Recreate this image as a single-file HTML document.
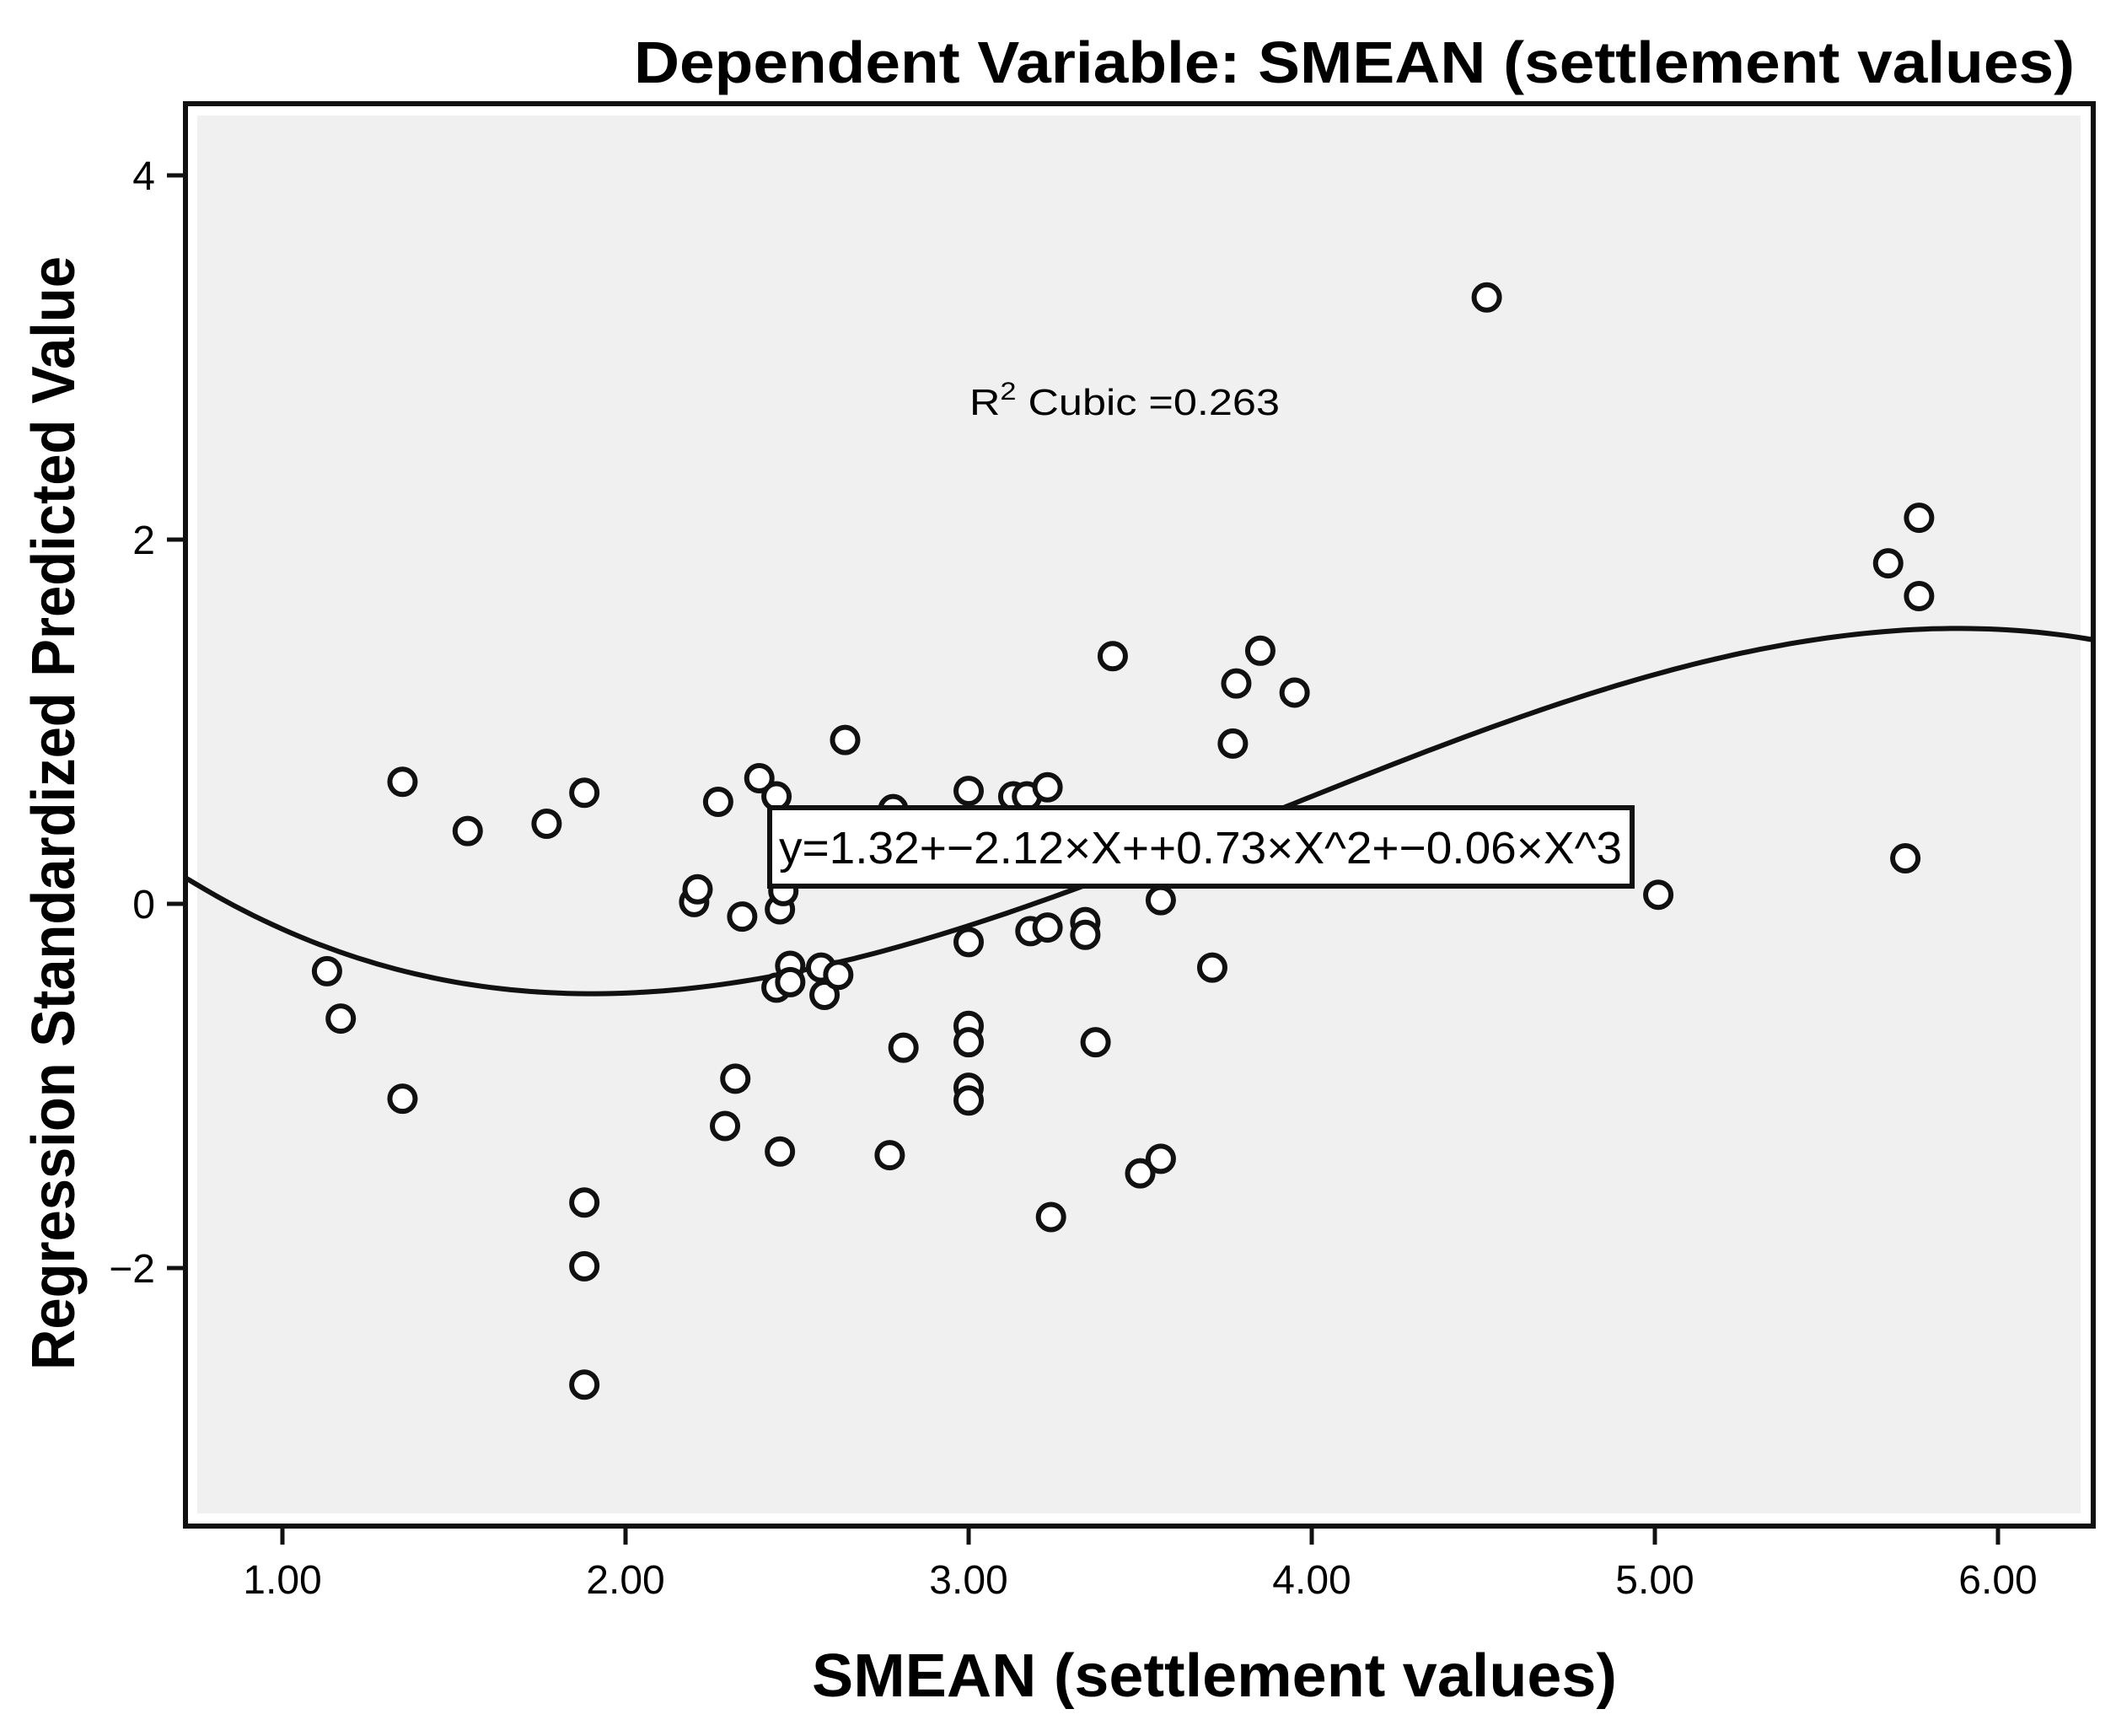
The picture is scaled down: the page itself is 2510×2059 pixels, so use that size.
<!DOCTYPE html>
<html><head><meta charset="utf-8"><style>html,body{margin:0;padding:0;background:#fff}svg{display:block}</style></head>
<body>
<svg id="chart" width="2510" height="2059" xmlns="http://www.w3.org/2000/svg" font-family="Liberation Sans, Arial, sans-serif">
<text x="752" y="98" font-size="70" font-weight="bold" textLength="1709" lengthAdjust="spacingAndGlyphs">Dependent Variable: SMEAN  (settlement values)</text>
<rect x="220" y="123" width="2263" height="1687" fill="#fff" stroke="#111" stroke-width="6"/>
<rect x="234" y="137" width="2234" height="1658" fill="#f0f0f0"/>
<g id="xticks"></g><g id="yticks"></g>
<g id="curve"></g>
<g id="points"></g>
<text x="1150" y="492" font-size="44" textLength="368" lengthAdjust="spacingAndGlyphs">R<tspan dy="-18" font-size="30">2</tspan><tspan dy="18"> Cubic =0.263</tspan></text>
<rect x="913" y="958" width="1023" height="93" fill="#fff" stroke="#111" stroke-width="6"/>
<text x="924" y="1024" font-size="54" textLength="1000" lengthAdjust="spacingAndGlyphs">y=1.32+−2.12×X++0.73×X^2+−0.06×X^3</text>
<text x="963" y="2012" font-size="72" font-weight="bold" textLength="955" lengthAdjust="spacingAndGlyphs">SMEAN  (settlement values)</text>
<text transform="translate(88,1625) rotate(-90)" x="0" y="0" font-size="72" font-weight="bold" textLength="1321" lengthAdjust="spacingAndGlyphs">Regression Standardized Predicted Value</text>
</svg>
<script>
const xVals=[1.13,1.17,1.35,1.35,1.54,1.77,1.88,1.88,1.88,1.88,2.20,2.21,2.27,2.29,2.32,2.34,2.39,2.44,2.44,2.45,2.45,2.46,2.48,2.48,2.57,2.58,2.62,2.64,2.77,2.78,2.81,3.00,3.00,3.00,3.00,3.00,3.00,3.13,3.17,3.18,3.23,3.23,3.24,3.34,3.34,3.37,3.42,3.50,3.56,3.56,3.71,3.77,3.78,3.85,3.95,4.51,5.01,5.68,5.73,5.77,5.77];
const yVals=[-0.37,-0.63,0.67,-1.07,0.40,0.44,0.61,-1.64,-1.99,-2.64,0.01,0.08,0.56,-1.22,-0.96,-0.07,0.69,0.59,-0.46,-1.36,-0.03,0.07,-0.34,-0.43,-0.35,-0.50,-0.39,0.90,-1.38,0.52,-0.79,0.62,-0.21,-0.67,-0.76,-1.01,-1.08,0.59,0.59,-0.15,0.64,-0.13,-1.72,-0.10,-0.17,-0.76,1.36,-1.48,0.02,-1.40,-0.35,0.88,1.21,1.39,1.16,3.33,0.05,1.87,0.25,2.12,1.69];
const xTicks=[1,2,3,4,5,6];
const xTickLabels=["1.00","2.00","3.00","4.00","5.00","6.00"];
const yTicks=[4,2,0,-2];
const yTickLabels=["4","2","0","−2"];
const coef=[1.314,-2.1307,0.7413,-0.06347];
const xDomain=[0.72,6.28];
const NS="http://www.w3.org/2000/svg";
function sx(v){return 335+(v-1)*407;}
function sy(v){return 1072-v*216;}
function mk(t,a,p){const e=document.createElementNS(NS,t);for(const k in a)e.setAttribute(k,a[k]);p.appendChild(e);return e;}
const xt=document.getElementById('xticks');
xTicks.forEach((t,i)=>{
 const l=mk('line',{x1:sx(t),x2:sx(t),y1:1812,y2:1832,stroke:'#111','stroke-width':5},xt);
 
 
 const tx=mk('text',{x:sx(t),y:1890,'font-size':48,'text-anchor':'middle'},xt);
 tx.textContent=xTickLabels[i];
 
 
});
const yt=document.getElementById('yticks');
yTicks.forEach((t,i)=>{
 const l=mk('line',{x1:198,x2:218,y1:sy(t),y2:sy(t),stroke:'#111','stroke-width':5},yt);
 
 
 const tx=mk('text',{x:184,y:sy(t)+17,'font-size':48,'text-anchor':'end'},yt);
 tx.textContent=yTickLabels[i];
 
 
});
let d='';
for(let i=0;i<=200;i++){const x=xDomain[0]+(xDomain[1]-xDomain[0])*i/200;const y=coef[0]+coef[1]*x+coef[2]*x*x+coef[3]*x*x*x;d+=(i?'L':'M')+sx(x).toFixed(1)+' '+sy(y).toFixed(1);}
const c=mk('path',{d:d,fill:'none',stroke:'#111','stroke-width':6},document.getElementById('curve'));


const pg=document.getElementById('points');
xVals.forEach((x,i)=>{
 const p=mk('circle',{cx:sx(x),cy:sy(yVals[i]),r:15,fill:'#fff',stroke:'#111','stroke-width':6},pg);
 
 
});
</script>
</body></html>
